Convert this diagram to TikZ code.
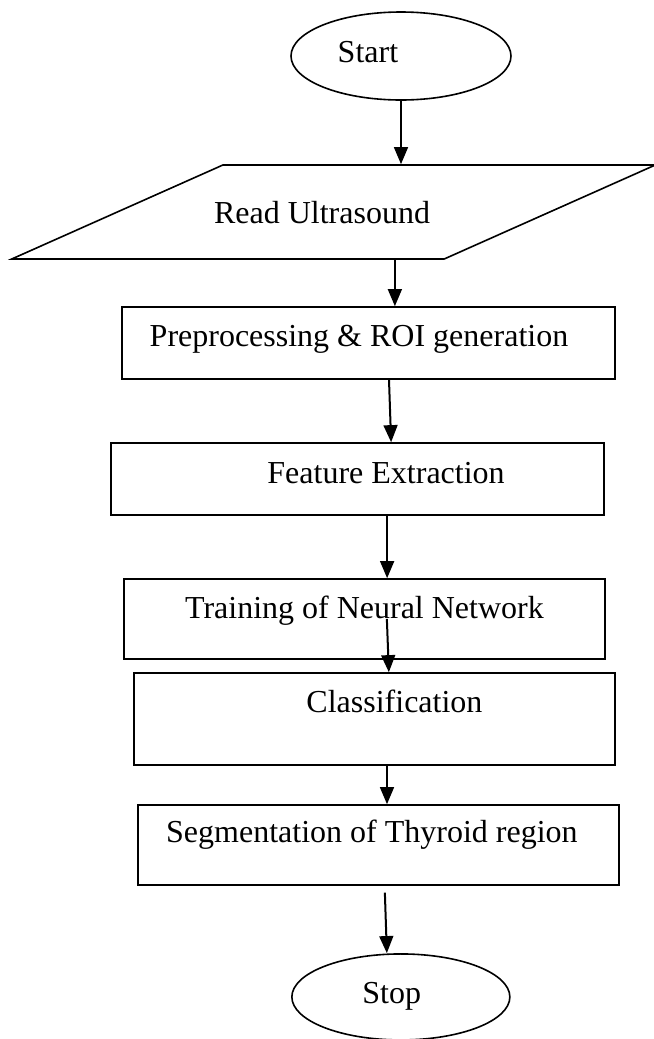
\documentclass[tikz,border=0pt]{standalone}
\usepackage{fontspec}
\setmainfont{Liberation Serif}
\usepackage{tikz}
\usetikzlibrary{arrows.meta,shapes.geometric,positioning}

\begin{document}
\begin{tikzpicture}[node distance=50pt, auto, font=\fontsize{12pt}{14pt}\selectfont]
        % Stijlen voor de knooppunten
        \tikzstyle{startstop} = [ellipse, minimum width=82.5pt, minimum height=33pt, inner sep=0pt, text height=8pt, draw=black, line width=0.6pt]
        \tikzstyle{io} = [trapezium, trapezium left angle=24, trapezium right angle=156, minimum height=35.25pt, inner xsep=-3.3pt, inner ysep=10.2pt, text height=8pt, draw=black, line width=0.6pt]
        \tikzstyle{process} = [rectangle, minimum width=184.9pt, minimum height=27pt, inner sep=0pt, text height=8pt, draw=black, line width=0.55pt]
        \tikzstyle{arrow} = [line width=0.75pt, -{Triangle[length=6.4pt, width=5.2pt]}]

        \useasboundingbox (-150.375pt,21pt) rectangle (94.875pt,-368.625pt);

        % Knopen plaatsen
        \node (start) [startstop, text depth=3.3pt] {Start\hspace*{24.8pt}};
        \node (read) [io, below of=start, xshift=-25.3pt, yshift=-8.5pt, text height=11.85pt, text depth=3pt] {Read Ultrasound\hspace*{8.6pt}};
        \node (prep) [process, below of=read, xshift=13.1pt, yshift=0.9pt, text depth=5.15pt] {Preprocessing \& ROI generation\hspace*{7.1pt}};
        \node (feat) [process, below of=prep, xshift=-4.1pt, yshift=-1pt, text depth=4.4pt] {\hspace*{21.4pt}Feature Extraction};
        \node (train) [process, below of=feat, xshift=2.6pt, yshift=-2.5pt, minimum width=180.4pt, minimum height=30pt, text depth=8.5pt] {Training of Neural Network};
        \node (class) [process, below of=train, xshift=3.75pt, yshift=12.5pt, minimum width=180.4pt, minimum height=34.5pt, text depth=13pt] {\hspace*{15pt}Classification};
        \node (seg) [process, below of=class, xshift=1.5pt, yshift=2.75pt, minimum width=180.4pt, minimum height=30pt, text depth=9.65pt] {Segmentation of Thyroid region\hspace*{4.9pt}};
        \node (stop) [startstop, below of=seg, xshift=8.4pt, yshift=-7pt, minimum width=81.75pt, minimum height=32.25pt, text depth=2.9pt] {Stop\hspace*{6.8pt}};

        % Pijlen tekenen
        \draw [arrow] (start.south) -- (start.south |- read.north);
        \draw [arrow] ([xshift=23pt]read.south) -- ([xshift=23pt]read.south |- prep.north);
        \draw [arrow] ([xshift=7.7pt]prep.south) -- ([xshift=12.6pt]feat.north);
        \draw [arrow] ([xshift=11.1pt]feat.south) -- ([xshift=11.1pt]feat.south |- train.north);
        \draw [arrow] ([xshift=8.4pt]train.center) -- ([xshift=5.4pt]class.north);
        \draw [arrow] ([xshift=4.7pt]class.south) -- ([xshift=4.7pt]class.south |- seg.north);
        \draw [arrow] ([xshift=2.4pt,yshift=-2.6pt]seg.south) -- ([xshift=-5.25pt]stop.north);
    \end{tikzpicture}
\end{document}
